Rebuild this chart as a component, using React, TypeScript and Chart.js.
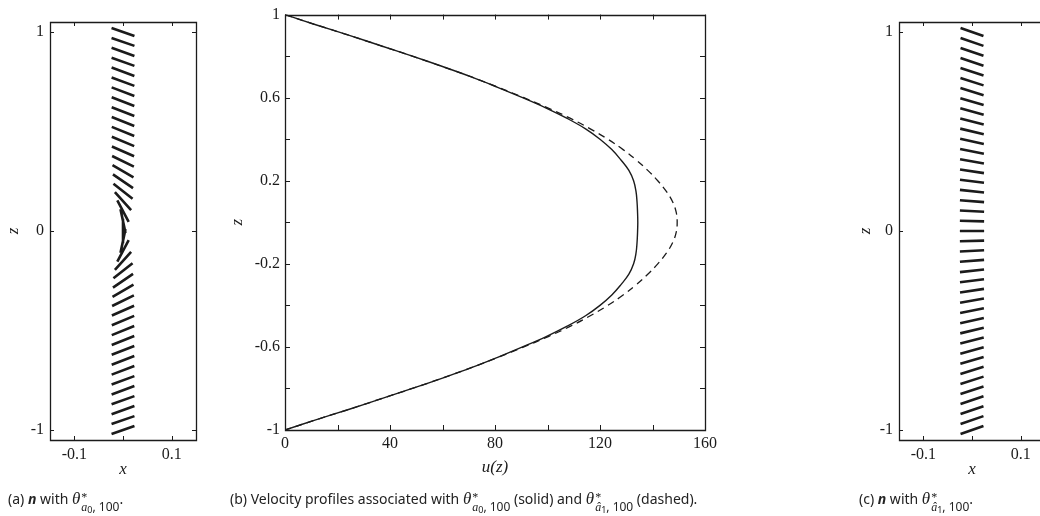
import React, { useEffect, useRef } from "react";
import { Chart, registerables } from "chart.js";

Chart.register(...registerables);

// ---------- data ----------
// z positions of the director segments in panels (a) and (c)
const Z_LEVELS = [
  1, 0.95, 0.9, 0.85, 0.8, 0.75, 0.7, 0.65, 0.6, 0.55, 0.5, 0.45, 0.4, 0.35, 0.3, 0.25, 0.2, 0.15, 0.1, 0.05,
  0, -0.05, -0.1, -0.15, -0.2, -0.25, -0.3, -0.35, -0.4, -0.45, -0.5, -0.55, -0.6, -0.65, -0.7, -0.75, -0.8,
  -0.85, -0.9, -0.95, -1,
];
// tilt of the director n (degrees, + = "\" , - = "/") for θ*_{a0,100}
const TILT_A = [
  19, 19, 19.5, 19.5, 20, 20, 20.5, 21, 21, 21.5, 22, 22.5, 23.5, 26, 30, 34, 38, 48, 62, 78,
  90, -78, -62, -48, -38, -34, -30, -26, -23.5, -22.5, -22, -21.5, -21, -21, -20.5, -20, -20,
  -19.5, -19.5, -19, -19,
];
// tilt of the director n for θ*_{â1,100}
const TILT_C = [
  19, 19, 18.8, 18.5, 18, 17.5, 17, 16.2, 15.4, 14.5, 13.5, 12.4, 11.2, 10, 8.8, 7.4, 6, 4.5, 3, 1.5,
  0, -1.5, -3, -4.5, -6, -7.4, -8.8, -10, -11.2, -12.4, -13.5, -14.5, -15.4, -16.2, -17, -17.5, -18,
  -18.5, -18.8, -19, -19,
];

// velocity profiles, panel (b)
const PROFILE_Z = [
  1, 0.95, 0.9, 0.85, 0.8, 0.75, 0.7, 0.65, 0.6, 0.55, 0.5, 0.45, 0.4, 0.35, 0.3, 0.25, 0.2, 0.15, 0.1, 0.05,
  0, -0.05, -0.1, -0.15, -0.2, -0.25, -0.3, -0.35, -0.4, -0.45, -0.5, -0.55, -0.6, -0.65, -0.7, -0.75, -0.8,
  -0.85, -0.9, -0.95, -1,
];
const U_SOLID = [
  0, 12, 24.5, 36.5, 48.5, 60, 71, 81, 90.5, 99.5, 107.5, 114.5, 120, 124.5, 128, 131, 132.8, 133.7, 134.1, 134.3,
  134.4, 134.3, 134.1, 133.7, 132.8, 131, 128, 124.5, 120, 114.5, 107.5, 99.5, 90.5, 81, 71, 60, 48.5,
  36.5, 24.5, 12, 0,
];
const U_DASHED = [
  0, 12, 24.5, 36.5, 48.5, 60, 71, 81.2, 91, 100.3, 108.8, 116.3, 123, 128.8, 133.8, 138.2, 142, 145.2, 147.6, 149,
  149.4, 149, 147.6, 145.2, 142, 138.2, 133.8, 128.8, 123, 116.3, 108.8, 100.3, 91, 81.2, 71, 60, 48.5,
  36.5, 24.5, 12, 0,
];

// ticks
const N_X_TICKS = [-0.1, 0, 0.1];
const N_X_LABELS = [-0.1, 0.1];
const N_Y_TICKS = [-1, 0, 1];
const N_Y_LABELS = [-1, 0, 1];
const B_X_TICKS = [0, 20, 40, 60, 80, 100, 120, 140, 160];
const B_X_LABELS = [0, 40, 80, 120, 160];
const B_Y_TICKS = [-1, -0.8, -0.6, -0.4, -0.2, 0, 0.2, 0.4, 0.6, 0.8, 1];
const B_Y_LABELS = [-1, -0.6, -0.2, 0.2, 0.6, 1];

// ---------- style ----------
const INK = "#1b1b1b";
const TICK_FONT = { family: '"Liberation Serif", "Times New Roman", serif', size: 16 };
const TITLE_FONT = { family: '"Liberation Serif", "Times New Roman", serif', size: 17, style: "italic" as const };
const SEG_HALF_X = 0.0249; // half length of a director segment, x units
const SEG_HALF_Z = 0.0613; // half length of a director segment, z units

const near = (list: number[], v: number) => list.some((t) => Math.abs(t - v) < 1e-6);
const fmt = (v: number) => String(Number(v.toFixed(3)));

function boxTicks(xTicks: number[], yTicks: number[], len: number) {
  return {
    id: "boxTicks",
    afterDatasetsDraw(chart: any) {
      const { ctx, chartArea: a, scales } = chart;
      const xs = scales.x;
      const ys = scales.y;
      ctx.save();
      ctx.strokeStyle = INK;
      ctx.lineWidth = 1.3;
      ctx.beginPath();
      ctx.rect(Math.round(a.left) + 0.5, Math.round(a.top) + 0.5, Math.round(a.right - a.left), Math.round(a.bottom - a.top));
      ctx.stroke();
      ctx.lineWidth = 1;
      ctx.beginPath();
      for (const v of xTicks) {
        const p = Math.round(xs.getPixelForValue(v)) + 0.5;
        ctx.moveTo(p, a.bottom);
        ctx.lineTo(p, a.bottom - len);
        ctx.moveTo(p, a.top);
        ctx.lineTo(p, a.top + len);
      }
      for (const v of yTicks) {
        const p = Math.round(ys.getPixelForValue(v)) + 0.5;
        ctx.moveTo(a.left, p);
        ctx.lineTo(a.left + len, p);
        ctx.moveTo(a.right, p);
        ctx.lineTo(a.right - len, p);
      }
      ctx.stroke();
      ctx.restore();
    },
  };
}

function axis(
  dir: "x" | "y",
  min: number,
  max: number,
  ticks: number[],
  labels: number[],
  fitSize: number,
  title: string,
  titlePad: number,
  tickPad: number
) {
  return {
    type: "linear" as const,
    min,
    max,
    grid: { display: false, drawTicks: false },
    border: { display: false },
    afterBuildTicks: (s: any) => {
      s.ticks = ticks.map((v) => ({ value: v }));
    },
    afterFit: (s: any) => {
      if (dir === "x") s.height = fitSize;
      else s.width = fitSize;
    },
    ticks: {
      autoSkip: false,
      maxRotation: 0,
      padding: tickPad,
      color: INK,
      font: TICK_FONT,
      callback: (v: any) => (near(labels, Number(v)) ? fmt(Number(v)) : ""),
    },
    title: {
      display: true,
      text: title,
      color: INK,
      font: TITLE_FONT,
      padding: dir === "x" ? { top: 0, bottom: titlePad } : { top: titlePad, bottom: 0 },
    },
  };
}

function segments(tilts: number[]) {
  const pts: { x: number; y: number | null }[] = [];
  Z_LEVELS.forEach((z, i) => {
    const r = (tilts[i] * Math.PI) / 180;
    pts.push({ x: -SEG_HALF_X * Math.cos(r), y: z + SEG_HALF_Z * Math.sin(r) });
    pts.push({ x: SEG_HALF_X * Math.cos(r), y: z - SEG_HALF_Z * Math.sin(r) });
    pts.push({ x: 0, y: null });
  });
  return pts;
}

function directorConfig(tilts: number[], yWidth: number, rightPad: number, yTitlePad: number): any {
  return {
    type: "scatter",
    data: {
      datasets: [
        {
          data: segments(tilts),
          showLine: true,
          spanGaps: false,
          borderColor: INK,
          borderWidth: 2.6,
          borderCapStyle: "butt",
          pointRadius: 0,
          tension: 0,
        },
      ],
    },
    options: {
      responsive: false,
      animation: false,
      events: [],
      layout: { padding: { top: 22, right: rightPad, bottom: 0, left: 0 } },
      plugins: { legend: { display: false }, tooltip: { enabled: false } },
      scales: {
        x: axis("x", -0.15, 0.15, N_X_TICKS, N_X_LABELS, 50, "x", 10, 5),
        y: axis("y", -1.05, 1.05, N_Y_TICKS, N_Y_LABELS, yWidth, "z", yTitlePad, 6),
      },
    },
    plugins: [boxTicks(N_X_TICKS, N_Y_TICKS, 4)],
  };
}

function profileConfig(): any {
  return {
    type: "scatter",
    data: {
      datasets: [
        {
          data: PROFILE_Z.map((z, i) => ({ x: U_SOLID[i], y: z })),
          showLine: true,
          borderColor: INK,
          borderWidth: 1.4,
          pointRadius: 0,
          tension: 0.4,
        },
        {
          data: PROFILE_Z.map((z, i) => ({ x: U_DASHED[i], y: z })),
          showLine: true,
          borderColor: INK,
          borderWidth: 1.3,
          borderDash: [7, 5],
          pointRadius: 0,
          tension: 0.4,
        },
      ],
    },
    options: {
      responsive: false,
      animation: false,
      events: [],
      layout: { padding: { top: 14, right: 35, bottom: 0, left: 0 } },
      plugins: { legend: { display: false }, tooltip: { enabled: false } },
      scales: {
        x: axis("x", 0, 160, B_X_TICKS, B_X_LABELS, 60, "u(z)", 12, 4),
        y: axis("y", -1, 1, B_Y_TICKS, B_Y_LABELS, 65, "z", 7, 5),
      },
    },
    plugins: [boxTicks(B_X_TICKS, B_Y_TICKS, 5)],
  };
}

function ChartCanvas({ config, left, width, height }: { config: () => any; left: number; width: number; height: number }) {
  const ref = useRef<HTMLCanvasElement | null>(null);
  useEffect(() => {
    if (!ref.current) return;
    const chart = new Chart(ref.current, config());
    return () => chart.destroy();
  }, []);
  return (
    <canvas
      ref={ref}
      width={width}
      height={height}
      style={{ position: "absolute", left, top: 0, width, height }}
    />
  );
}

const mathIt: React.CSSProperties = { fontFamily: '"Liberation Serif", "Times New Roman", serif', fontStyle: "italic" };

function Theta({ hat, idx }: { hat: boolean; idx: string }) {
  return (
    <span style={{ whiteSpace: "nowrap" }}>
      <span style={{ ...mathIt, fontSize: 17 }}>θ</span>
      <span
        style={{
          display: "inline-block",
          verticalAlign: "-0.6em",
          lineHeight: "0.85em",
          fontSize: 12,
          marginLeft: 1,
        }}
      >
        <span style={{ display: "block", ...mathIt, fontStyle: "normal" }}>*</span>
        <span style={{ display: "block" }}>
          <span style={mathIt}>{hat ? "â" : "a"}</span>
          <span style={{ fontSize: 9, verticalAlign: "-0.25em" }}>{idx}</span>
          <span>, 100</span>
        </span>
      </span>
    </span>
  );
}

const capStyle: React.CSSProperties = {
  position: "absolute",
  top: 489,
  whiteSpace: "nowrap",
  fontFamily: '"Noto Sans", "Open Sans", sans-serif',
  fontSize: 14,
  color: "#222",
  lineHeight: "20px",
};

export default function App() {
  return (
    <div
      style={{
        position: "fixed",
        left: 0,
        top: 0,
        width: 1040,
        height: 516,
        overflow: "hidden",
        background: "#fff",
      }}
    >
      <ChartCanvas config={() => directorConfig(TILT_A, 50, 19, 3)} left={0} width={215} height={490} />
      <ChartCanvas config={profileConfig} left={220} width={520} height={490} />
      <ChartCanvas config={() => directorConfig(TILT_C, 49, 20, 5)} left={850} width={215} height={490} />
      <div style={{ ...capStyle, left: 8 }}>
        (a) <b><i>n</i></b> with <Theta hat={false} idx="0" />.
      </div>
      <div style={{ ...capStyle, left: 230 }}>
        (b) Velocity profiles associated with <Theta hat={false} idx="0" /> (solid) and <Theta hat={true} idx="1" /> (dashed).
      </div>
      <div style={{ ...capStyle, left: 859 }}>
        (c) <b><i>n</i></b> with <Theta hat={true} idx="1" />.
      </div>
    </div>
  );
}
